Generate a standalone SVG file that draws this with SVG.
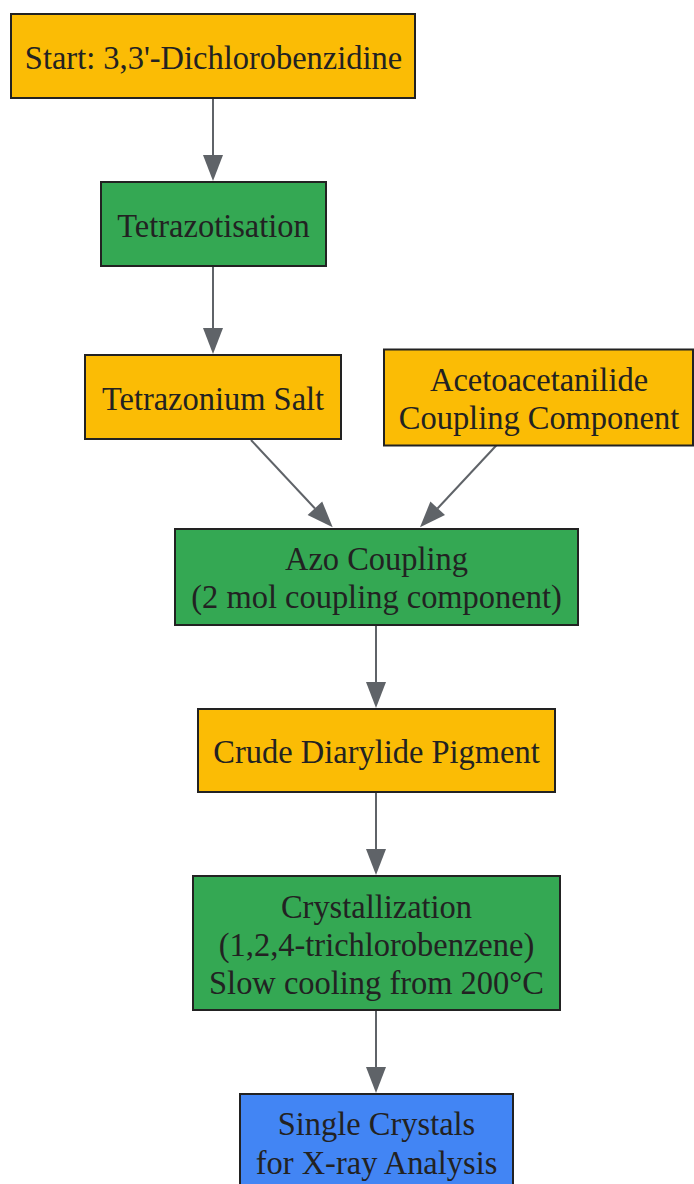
<svg xmlns="http://www.w3.org/2000/svg" width="694" height="1184" viewBox="0 0 694 1184">
<style>
.n rect{stroke:#222;stroke-width:2}
.y{fill:#FBBC05}.g{fill:#34A853}.b{fill:#4285F4}
.n text{font-family:"Liberation Serif","Times New Roman",serif;font-size:34px;fill:#222;text-anchor:middle;dominant-baseline:central}
#edges path{stroke:#5f6368;stroke-width:2;fill:none}
#edges polygon{fill:#5f6368}
</style>
<rect width="694" height="1184" fill="#fff"/>
<g id="edges">
<path d="M213,98 L213,156"/>
<polygon points="203,155 223,155 213,181"/>
<path d="M213,266 L213,329"/>
<polygon points="203,328 223,328 213,354"/>
<path d="M251,440 L315,508.5"/>
<polygon points="307.6,515.1 322.2,501.5 332.7,527.3"/>
<path d="M496.7,445 L437.5,508.5"/>
<polygon points="430.4,501.5 445,515.1 420,527.3"/>
<path d="M376,625 L376,683"/>
<polygon points="366,682 386,682 376,708"/>
<path d="M376,792 L376,850"/>
<polygon points="366,849 386,849 376,875"/>
<path d="M376,1010 L376,1068"/>
<polygon points="366,1067 386,1067 376,1093"/>
</g>
<g id="start" class="n"><rect class="y" x="11" y="14" width="404" height="84"/><text transform="translate(213.5 57) scale(.955 1)">Start: 3,3'-Dichlorobenzidine</text></g>
<g id="tetrazotisation" class="n"><rect class="g" x="101" y="182" width="225" height="84"/><text transform="translate(213.5 225) scale(.955 1)">Tetrazotisation</text></g>
<g id="salt" class="n"><rect class="y" x="85" y="355" width="256" height="84"/><text transform="translate(213 398) scale(.955 1)">Tetrazonium Salt</text></g>
<g id="acetoacetanilide" class="n"><rect class="y" x="384" y="349.5" width="309" height="96"/><text transform="translate(539 379) scale(.955 1)">Acetoacetanilide</text><text transform="translate(539 417) scale(.955 1)">Coupling Component</text></g>
<g id="azo" class="n"><rect class="g" x="175" y="529" width="403" height="96"/><text transform="translate(376.5 558) scale(.955 1)">Azo Coupling</text><text transform="translate(376.5 596.5) scale(.955 1)">(2 mol coupling component)</text></g>
<g id="crude" class="n"><rect class="y" x="198" y="709" width="357" height="83"/><text transform="translate(376.5 751) scale(.955 1)">Crude Diarylide Pigment</text></g>
<g id="cryst" class="n"><rect class="g" x="193" y="876" width="367" height="134"/><text transform="translate(376.5 906) scale(.955 1)">Crystallization</text><text transform="translate(376.5 944) scale(.955 1)">(1,2,4-trichlorobenzene)</text><text transform="translate(376.5 982) scale(.955 1)">Slow cooling from 200°C</text></g>
<g id="single" class="n"><rect class="b" x="240" y="1094" width="273" height="100"/><text transform="translate(376.5 1123) scale(.955 1)">Single Crystals</text><text transform="translate(376.5 1162) scale(.955 1)">for X-ray Analysis</text></g>
</svg>
